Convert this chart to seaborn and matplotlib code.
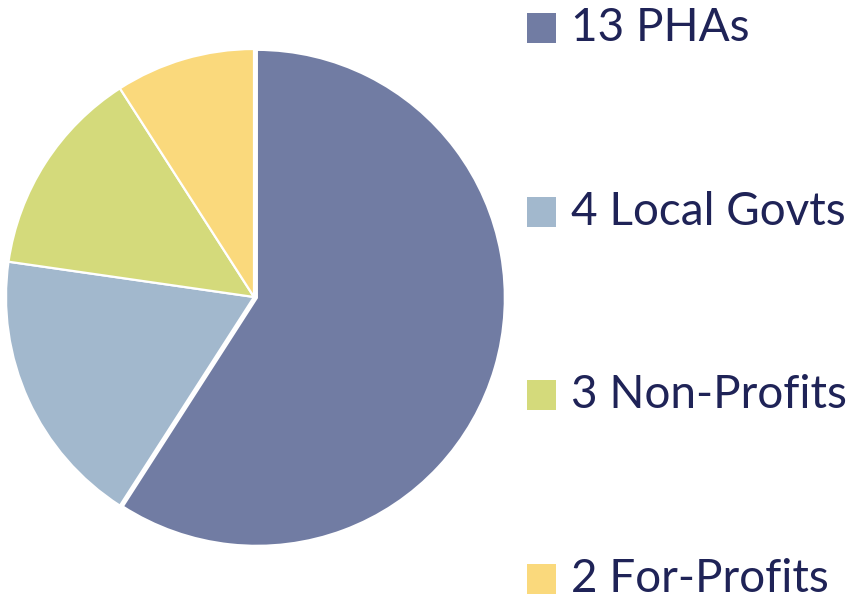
import matplotlib
matplotlib.use("Agg")
import matplotlib.pyplot as plt
from matplotlib.patches import Rectangle
import seaborn as sns

# data
counts = [13, 4, 3, 2]
groups = ["PHAs", "Local Govts", "Non-Profits", "For-Profits"]
colors = ["#717ca3", "#a2b8cd", "#d4da7b", "#fad97c"]
text_color = "#1f2357"

sns.set_theme(style="white")
plt.rcParams['font.family'] = ['Lato', 'DejaVu Sans']

W, H = 858, 600
fig = plt.figure(figsize=(W / 100, H / 100), dpi=100)

# pie axes: centre ~ (254, 297) px, radius ~248 px
cx, cy, r = 254, 297, 248
ax = fig.add_axes([(cx - r) / W, 1 - (cy + r) / H, 2 * r / W, 2 * r / H])
ax.pie(counts, colors=sns.color_palette(colors), startangle=90, counterclock=False,
       explode=[0.012, 0, 0, 0],
       wedgeprops=dict(edgecolor="white", linewidth=1.6))
ax.set_aspect("equal")
ax.set_xlim(-1.0, 1.0)
ax.set_ylim(-1.0, 1.0)
ax.axis("off")

# legend drawn by hand
row_y = [28, 212, 395, 579]
for i, (n, g) in enumerate(zip(counts, groups)):
    y = row_y[i]
    fig.patches.append(Rectangle(((527) / W, 1 - (y + 15) / H), 29 / W, 30 / H,
                                 transform=fig.transFigure, facecolor=colors[i],
                                 edgecolor="none"))
    fig.text(571 / W, 1 - y / H, f"{n} {g}", fontsize=33, color=text_color,
             va="center", ha="left")

fig.savefig("out.png", dpi=100)
